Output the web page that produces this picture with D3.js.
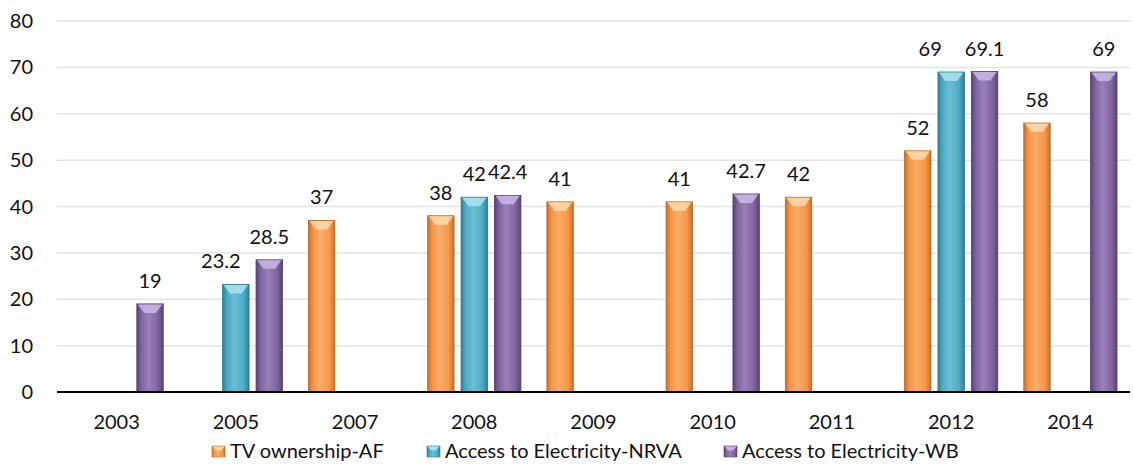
<!DOCTYPE html>
<html lang="en">
<head>
  <meta charset="UTF-8">
  <title>TV ownership and access to electricity</title>
  <script src="https://d3js.org/d3.v7.min.js"></script>
  <style>
    html, body { margin: 0; padding: 0; background: #fff; }
    body { font-family: 'Lato', 'Open Sans', sans-serif; }
    svg text { fill: #111; }
  </style>
</head>
<body>
  <div id="chart"></div>

  <script>
    // data
    const years = ["2003", "2005", "2007", "2008", "2009", "2010", "2011", "2012", "2014"];
    const tvOwnershipAF = [null, null, 37, 38, 41, 41, 42, 52, 58];
    const electricityNRVA = [null, 23.2, null, 42, null, null, null, 69, null];
    const electricityWB = [19, 28.5, null, 42.4, null, 42.7, null, 69.1, 69];
    const yTicks = [0, 10, 20, 30, 40, 50, 60, 70, 80];

    const series = [
      { key: "tv", label: "TV ownership-AF", values: tvOwnershipAF, color: "#F79646", light: "#FDD7A8", dark: "#C9712A" },
      { key: "nrva", label: "Access to Electricity-NRVA", values: electricityNRVA, color: "#4BACC6", light: "#A9E0EE", dark: "#2E8199" },
      { key: "wb", label: "Access to Electricity-WB", values: electricityWB, color: "#8064A2", light: "#C8B5E2", dark: "#5B4379" }
    ];

    // labels that were nudged left in the original so they don't collide
    const labelShift = { "nrva-2005": -15, "nrva-2012": -21 };

    const W = 1133, H = 464;
    const margin = { top: 21, right: 3, bottom: 72, left: 57 };
    const width = W - margin.left - margin.right,
          height = H - margin.top - margin.bottom;

    const svg = d3.select("#chart")
      .append("svg")
      .attr("width", W)
      .attr("height", H);

    const defs = svg.append("defs");
    series.forEach(s => {
      const g = defs.append("linearGradient")
        .attr("id", "grad-" + s.key)
        .attr("x1", "0%").attr("x2", "100%").attr("y1", "0%").attr("y2", "0%");
      g.append("stop").attr("offset", "0%").attr("stop-color", s.dark);
      g.append("stop").attr("offset", "18%").attr("stop-color", s.color);
      g.append("stop").attr("offset", "45%").attr("stop-color", d3.interpolateRgb(s.color, s.light)(0.35));
      g.append("stop").attr("offset", "80%").attr("stop-color", s.color);
      g.append("stop").attr("offset", "100%").attr("stop-color", s.dark);
    });

    const chart = svg.append("g")
      .attr("transform", `translate(${margin.left},${margin.top})`);

    const x0 = d3.scaleBand()
      .domain(years)
      .range([0, width])
      .paddingInner(0)
      .paddingOuter(0);

    const x1 = d3.scaleBand()
      .domain(series.map(s => s.key))
      .range([13, x0.bandwidth() - 13])
      .paddingInner(0.21)
      .paddingOuter(0);

    const y = d3.scaleLinear()
      .domain([0, 80])
      .range([height, 0]);

    // gridlines
    chart.append("g")
      .selectAll("line")
      .data(yTicks.filter(t => t > 0))
      .join("line")
      .attr("x1", 0)
      .attr("x2", width)
      .attr("y1", d => y(d))
      .attr("y2", d => y(d))
      .attr("stroke", "#e3e3e3")
      .attr("stroke-width", 1.5);

    // y axis labels
    chart.append("g")
      .selectAll("text")
      .data(yTicks)
      .join("text")
      .attr("x", -24)
      .attr("y", d => y(d))
      .attr("dy", "0.35em")
      .attr("text-anchor", "end")
      .style("font-size", "20px")
      .text(d => d);

    // bars
    series.forEach(s => {
      const pts = years.map((yr, i) => ({ year: yr, value: s.values[i] }))
        .filter(d => d.value !== null);

      const grp = chart.append("g").attr("class", "series-" + s.key);
      const bw = x1.bandwidth();

      const bars = grp.selectAll("g.bar")
        .data(pts)
        .join("g")
        .attr("class", "bar")
        .attr("transform", d => `translate(${x0(d.year) + x1(s.key)},0)`);

      bars.append("rect")
        .attr("x", 0)
        .attr("y", d => y(d.value))
        .attr("width", bw)
        .attr("height", d => height - y(d.value))
        .attr("fill", `url(#grad-${s.key})`)
        .attr("stroke", d3.color(s.dark).darker(0.4))
        .attr("stroke-width", 0.8);

      // bevelled top cap
      bars.append("path")
        .attr("d", d => {
          const t = y(d.value);
          return `M1,${t + 0.5} L${bw - 1},${t + 0.5} L${bw * 0.72},${t + 9} L${bw * 0.28},${t + 9} Z`;
        })
        .attr("fill", s.light)
        .attr("opacity", 0.9);

      // value labels
      grp.selectAll("text")
        .data(pts)
        .join("text")
        .attr("x", d => x0(d.year) + x1(s.key) + bw / 2 + (labelShift[s.key + "-" + d.year] || 0))
        .attr("y", d => y(d.value) - 16)
        .attr("text-anchor", "middle")
        .style("font-size", "20px")
        .text(d => d.value);
    });

    // baseline
    chart.append("line")
      .attr("x1", 0)
      .attr("x2", width)
      .attr("y1", height)
      .attr("y2", height)
      .attr("stroke", "#000")
      .attr("stroke-width", 2);

    // x labels
    chart.append("g")
      .selectAll("text")
      .data(years)
      .join("text")
      .attr("x", d => x0(d) + x0.bandwidth() / 2)
      .attr("y", height + 37)
      .attr("text-anchor", "middle")
      .style("font-size", "20px")
      .text(d => d);

    // legend
    const legendX = [212, 427, 724];
    const legend = svg.append("g")
      .attr("transform", `translate(0,${H - 6})`);

    series.forEach((s, i) => {
      const item = legend.append("g")
        .attr("transform", `translate(${legendX[i]},0)`);
      item.append("rect")
        .attr("x", 0)
        .attr("y", -12)
        .attr("width", 13)
        .attr("height", 11)
        .attr("fill", `url(#grad-${s.key})`)
        .attr("stroke", s.dark)
        .attr("stroke-width", 0.6);
      item.append("path")
        .attr("d", "M0.5,-11.5 L12.5,-11.5 L9,-7.5 L4,-7.5 Z")
        .attr("fill", s.light);
      item.append("text")
        .attr("x", 18)
        .attr("y", 0)
        .style("font-size", "20px")
        .text(s.label);
    });
  </script>
</body>
</html>
